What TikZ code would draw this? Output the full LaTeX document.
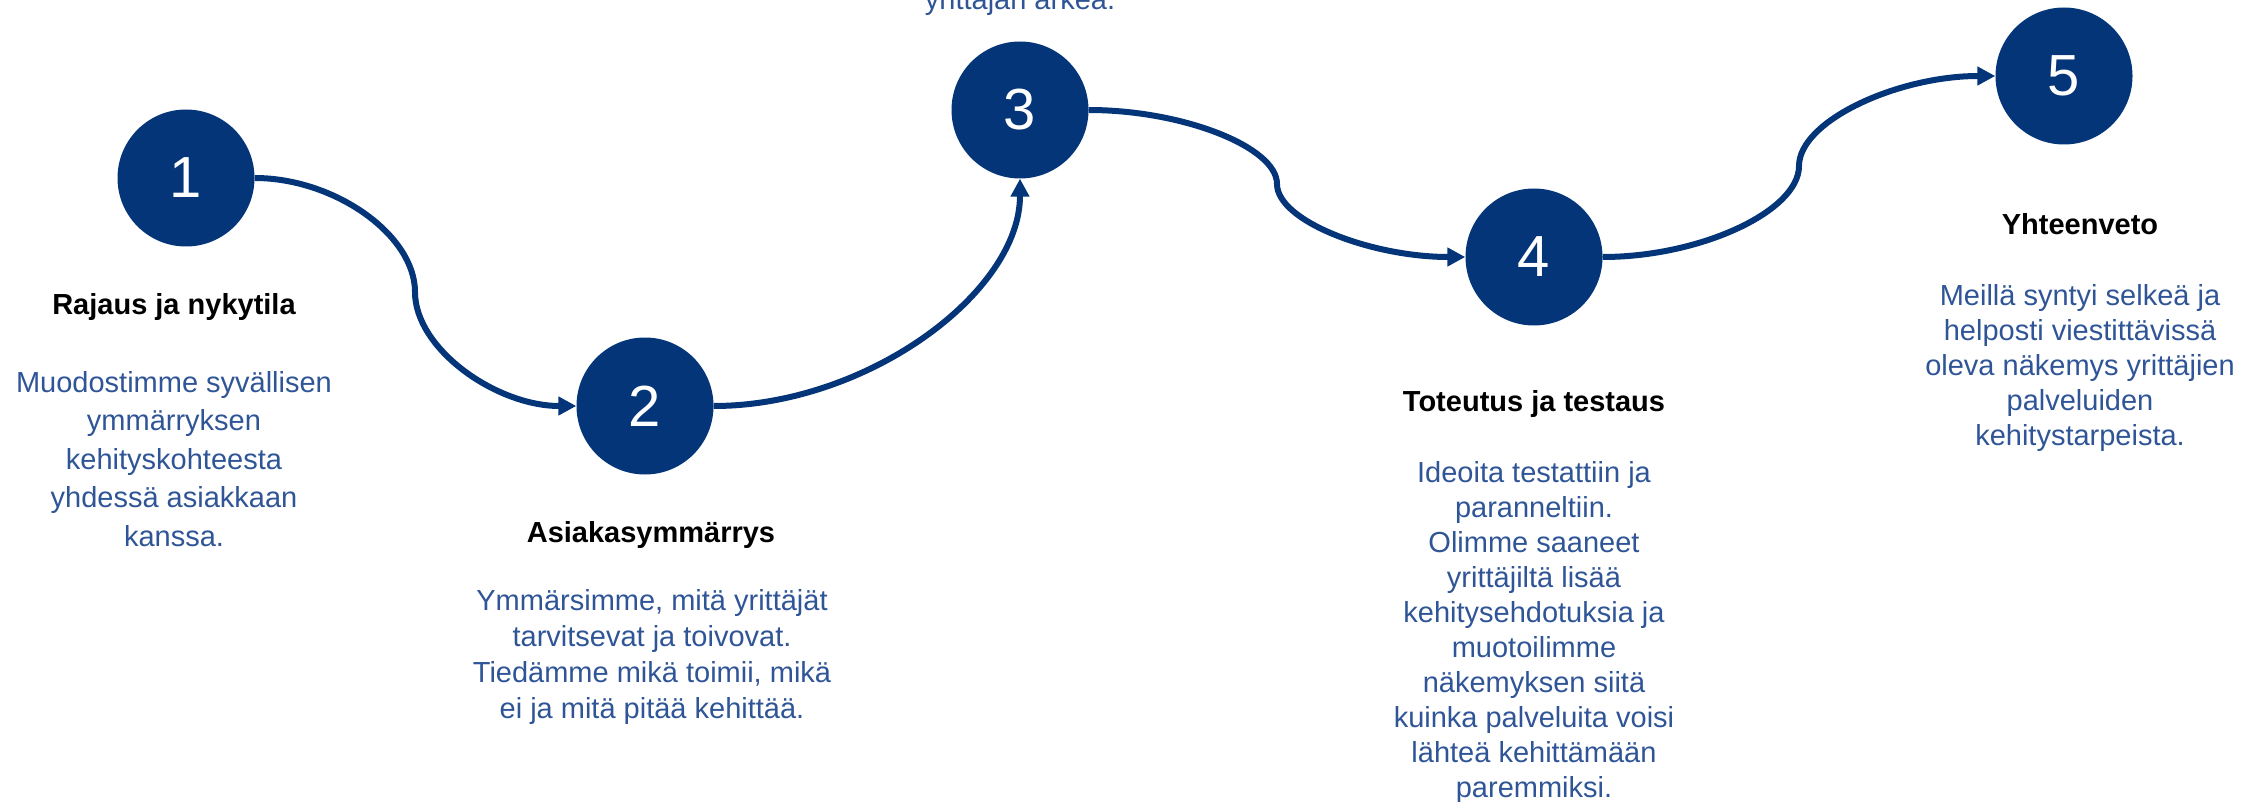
\documentclass[tikz,border=0pt]{standalone}
\usepackage{fontspec}
\setmainfont{Liberation Sans}
\usetikzlibrary{arrows.meta}
\definecolor{tummansin}{RGB}{3,53,120}
\definecolor{tekstisin}{RGB}{47,85,151}
\tikzset{
  vaihe/.style={circle, fill=tummansin, minimum size=137pt, inner sep=0pt,
    text=white, font=\fontsize{58}{58}\selectfont},
  otsikko/.style={anchor=base, inner sep=0pt, font=\bfseries\fontsize{29}{35}\selectfont},
  kuvaus/.style={anchor=north, inner sep=0pt, align=center, text=tekstisin,
    font=\fontsize{29}{#1}\selectfont},
  kuvaus/.default=35,
  polku/.style={line width=6pt, draw=tummansin, -{Triangle[length=18pt, width=18pt]}}
}

\begin{document}
\begin{tikzpicture}[x=1pt, y=1pt]
  \useasboundingbox (0,0) rectangle (2262,-802);
  \clip (0,0) rectangle (2262,-802);
  % vaiheet
  \node[vaihe] (s1) at (186,-178) {1};
  \node[vaihe] (s2) at (645,-406) {2};
  \node[vaihe] (s3) at (1020,-110) {3};
  \node[vaihe] (s4) at (1534,-257) {4};
  \node[vaihe] (s5) at (2064,-76) {5};
  % otsikot ja kuvaukset
  \node[otsikko] (t1) at (174,-315) {Rajaus ja nykytila};
  \node[kuvaus=38.5] (b1) at (174,-371) {Muodostimme syvällisen\\ymmärryksen\\kehityskohteesta\\yhdessä asiakkaan\\kanssa.};
  \node[otsikko] (t2) at (651,-542) {Asiakasymmärrys};
  \node[kuvaus=36] (b2) at (652,-589) {Ymmärsimme, mitä yrittäjät\\tarvitsevat ja toivovat.\\Tiedämme mikä toimii, mikä\\ei ja mitä pitää kehittää.};
  \node[kuvaus, anchor=base] (b3) at (1020,-10) {yrittäjän arkea.};
  \node[otsikko] (t4) at (1534,-411) {Toteutus ja testaus};
  \node[kuvaus] (b4) at (1534,-461) {Ideoita testattiin ja\\paranneltiin.\\Olimme saaneet\\yrittäjiltä lisää\\kehitysehdotuksia ja\\muotoilimme\\näkemyksen siitä\\kuinka palveluita voisi\\lähteä kehittämään\\paremmiksi.};
  \node[otsikko] (t5) at (2080,-235) {Yhteenveto};
  \node[kuvaus] (b5) at (2080,-284) {Meillä syntyi selkeä ja\\helposti viestittävissä\\oleva näkemys yrittäjien\\palveluiden\\kehitystarpeista.};
  % polut
  \coordinate (m12) at (415,-292);
  \coordinate (m34) at (1277,-184);
  \coordinate (m45) at (1799,-166);
  \draw[polku] (s1.east) .. controls +(80,0) and +(0,57) .. (m12)
    .. controls +(0,-57) and +(-80,0) .. (s2.west);
  \draw[polku] (s2.east) .. controls +(153,0) and +(0,-114) .. (s3.south);
  \draw[polku] (s3.east) .. controls +(94,0) and +(0,37) .. (m34)
    .. controls +(0,-37) and +(-94,0) .. (s4.west);
  \draw[polku] (s4.east) .. controls +(98,0) and +(0,-45) .. (m45)
    .. controls +(0,45) and +(-98,0) .. (s5.west);
\end{tikzpicture}
\end{document}
